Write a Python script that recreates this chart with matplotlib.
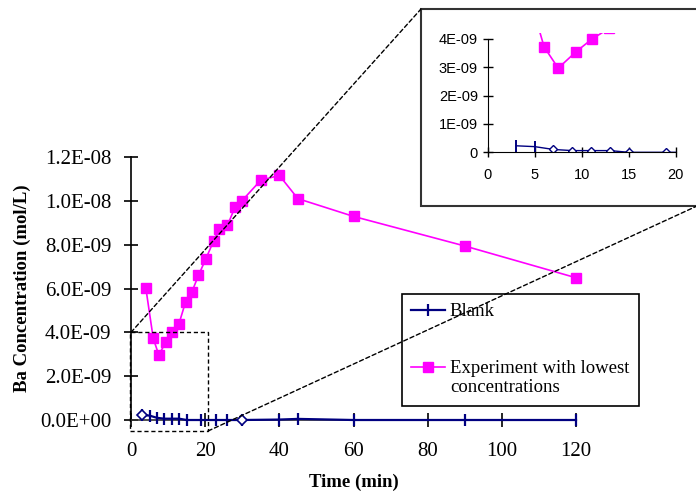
import matplotlib.pyplot as plt
import numpy as np
from matplotlib.patches import Rectangle, ConnectionPatch
from matplotlib.ticker import FuncFormatter

# experiment with lowest concentrations: time (min), Ba (mol/L)
exp_t = [4, 6, 7.5, 9.4, 11.1, 12.9, 14.7, 16.4, 18.2, 20.2, 22.3, 23.8, 26,
         28.1, 29.9, 35, 40, 45, 60, 90, 120]
exp_c = [6.02e-9, 3.72e-9, 2.97e-9, 3.55e-9, 4.0e-9, 4.37e-9, 5.38e-9, 5.84e-9,
         6.6e-9, 7.36e-9, 8.18e-9, 8.71e-9, 8.88e-9, 9.73e-9, 10.0e-9, 10.94e-9,
         11.16e-9, 10.1e-9, 9.29e-9, 7.94e-9, 6.49e-9]

# blank run
blank_t = [3, 5, 7, 9, 11, 13, 15, 19, 23, 26, 30, 40, 45, 60, 90, 120]
blank_c = [0.23e-9, 0.2e-9, 0.1e-9, 0.06e-9, 0.06e-9, 0.06e-9, 0.0, 0.0, 0.0,
           0.0, 0.0, 0.02e-9, 0.05e-9, 0.0, 0.0, 0.0]
main_open = [0, 10]      # points shown as open diamonds on the main plot
inset_bar = [0, 1]       # points shown as bars in the zoom plot

xticks = [0, 20, 40, 60, 80, 100, 120]
yticks = [0, 2e-9, 4e-9, 6e-9, 8e-9, 10e-9, 12e-9]
inset_xticks = [0, 5, 10, 15, 20]
inset_yticks = [0, 1e-9, 2e-9, 3e-9, 4e-9]

MAG = '#ff00ff'
NAVY = '#000080'
W, H = 696, 493

fig = plt.figure(figsize=(6.96, 4.93), dpi=100)
serif = 'Liberation Serif'
sans = 'Liberation Sans'

# main plot
ax = fig.add_axes([131 / W, 1 - 420 / H, 445 / W, 263 / H])
ax.plot(blank_t, blank_c, color=NAVY, lw=1.6, marker='|', ms=9, mew=1.6,
        label='Blank', clip_on=False, zorder=4)
ax.plot([blank_t[i] for i in main_open], [blank_c[i] for i in main_open],
        ls='none', marker='D', ms=5, mfc='white', mec=NAVY, mew=1.2,
        clip_on=False, zorder=5)
ax.plot(exp_t, exp_c, color=MAG, lw=1.2, marker='s', ms=7,
        label='Experiment with lowest\nconcentrations', clip_on=False, zorder=3)
ax.set_xlim(0, 120)
ax.set_ylim(0, 12e-9)
ax.set_xticks(xticks)
ax.set_yticks(yticks)
ax.yaxis.set_major_formatter(FuncFormatter(lambda v, p: f'{v:.1E}'))
for s in ['top', 'right']:
    ax.spines[s].set_visible(False)
ax.spines['left'].set_linewidth(1.2)
ax.spines['bottom'].set_linewidth(1.2)
ax.spines['bottom'].set_color('#333333')
ax.tick_params(axis='x', direction='inout', length=10, width=1.2, pad=11,
               labelsize=15)
ax.tick_params(axis='y', direction='inout', length=10, width=1.2, pad=9,
               labelsize=15)
for lab in ax.get_xticklabels() + ax.get_yticklabels():
    lab.set_family(serif)
ax.set_xlabel('Time (min)', family=serif, fontsize=13.5, fontweight='bold',
              labelpad=9)
ax.set_ylabel('Ba Concentration (mol/L)', family=serif, fontsize=13.5,
              fontweight='bold', labelpad=7)

# zoom box around the start of the runs
ax.add_patch(Rectangle((-0.2, -0.5e-9), 21, 4.5e-9, fill=False, ls=(0, (3, 2)),
                       lw=1, ec='black', clip_on=False, zorder=6))

leg = ax.legend(loc='upper left', bbox_to_anchor=(402 / W, 1 - 294 / H),
                bbox_transform=fig.transFigure, borderaxespad=0,
                prop={'family': serif, 'size': 13.5}, frameon=True,
                fancybox=False, edgecolor='black', framealpha=1,
                handlelength=1.8, handletextpad=0.25, labelspacing=2.1,
                borderpad=0.5)
leg.get_frame().set_linewidth(1.2)
# line the two-line entry's handle up with its first line
h = leg.legend_handles[1]
h.set_ydata(np.asarray(h.get_ydata()) + 0.6 * 13.5)

# frame around the zoom plot
fig.add_artist(Rectangle((421 / W, 1 - 206 / H), 280 / W, 197 / H,
                         transform=fig.transFigure, fill=True, fc='white',
                         ec='#333333', lw=1.5, zorder=1))

# dashed leader lines from the zoom box to the frame
for xa, ya, xb, yb in [(0, 4.0e-9, 421 / W, 1 - 9 / H),
                       (20.8, -0.5e-9, 697 / W, 1 - 206 / H)]:
    con = ConnectionPatch(xyA=(xa, ya), coordsA=ax.transData,
                          xyB=(xb, yb), coordsB=fig.transFigure,
                          ls=(0, (3, 2)), lw=1, color='black', zorder=2)
    fig.add_artist(con)

# zoom plot, first 20 minutes
ins = fig.add_axes([487.7 / W, 1 - 152.3 / H, 188 / W, 119 / H], zorder=3)
ins.patch.set_alpha(0)
diamonds = [i for i in range(len(blank_t)) if i not in inset_bar]
ins.plot(blank_t, blank_c, color=NAVY, lw=1, marker='D', ms=4.5,
         mfc='white', mec=NAVY, mew=1, markevery=diamonds)
ins.plot([blank_t[i] for i in inset_bar], [blank_c[i] for i in inset_bar],
         ls='none', marker='|', ms=9, mew=1.4, color=NAVY)
ins.plot(exp_t, exp_c, color=MAG, lw=1.2, marker='s', ms=7)
ins.set_xlim(0, 20)
ins.set_ylim(0, 4.2e-9)
ins.set_xticks(inset_xticks)
ins.set_yticks(inset_yticks)
ins.yaxis.set_major_formatter(
    FuncFormatter(lambda v, p: '0' if v == 0 else f'{v:.0E}'))
for s in ['top', 'right']:
    ins.spines[s].set_visible(False)
ins.spines['left'].set_bounds(0, 4e-9)
ins.tick_params(direction='inout', length=7, width=1, labelsize=10.5)
ins.tick_params(axis='x', pad=8)
for lab in ins.get_xticklabels() + ins.get_yticklabels():
    lab.set_family(sans)

fig.savefig('out.png', dpi=100)
